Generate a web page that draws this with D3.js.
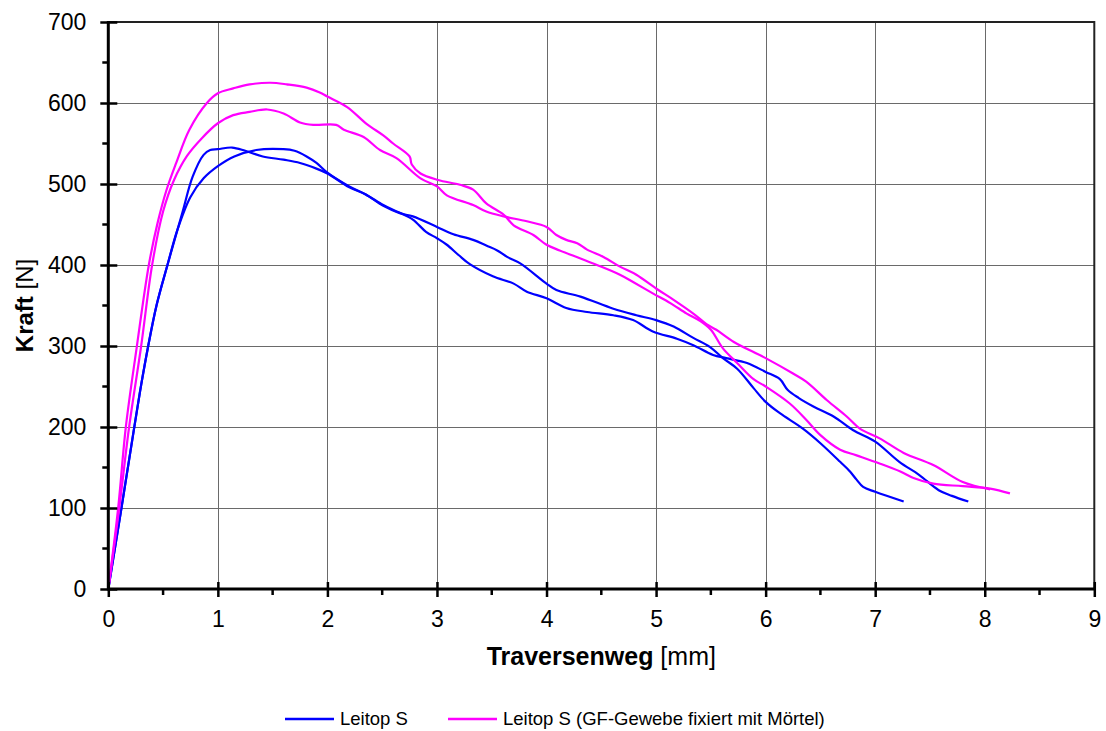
<!DOCTYPE html>
<html>
<head>
<meta charset="utf-8">
<script src="https://cdn.jsdelivr.net/npm/d3@7"></script>
<style>
  body { margin: 0; background: #fff; }
  svg { display: block; font-family: "Liberation Sans", Arial, sans-serif; }
</style>
</head>
<body>
<div id="chart"></div>
<script>
// traversenweg [mm] / kraft [N] pairs
const leitopA = [
  [0, 0], [0.12, 100], [0.235, 198], [0.3, 252], [0.36, 297], [0.44, 350],
  [0.54, 400], [0.675, 464], [0.77, 509], [0.87, 536], [0.93, 542], [1.0, 543],
  [1.13, 545], [1.25, 541], [1.41, 534], [1.6, 530], [1.75, 526], [1.9, 519],
  [2.0, 513], [2.2, 496], [2.35, 487], [2.51, 474], [2.65, 465], [2.78, 456],
  [2.9, 441], [3.0, 433], [3.09, 425], [3.2, 412], [3.3, 401], [3.51, 386],
  [3.7, 377], [3.82, 367], [4.0, 359], [4.18, 347], [4.37, 342], [4.61, 338],
  [4.79, 332], [4.97, 318], [5.19, 309], [5.34, 301], [5.52, 289], [5.64, 285],
  [5.83, 279], [6.0, 268], [6.13, 259], [6.2, 246], [6.3, 236], [6.44, 225],
  [6.62, 213], [6.8, 196], [7.0, 182], [7.22, 157], [7.4, 141], [7.58, 122],
  [7.7, 115], [7.85, 108]
];
const leitopB = [
  [0, 0], [0.12, 100], [0.235, 198], [0.3, 252], [0.36, 297], [0.44, 350],
  [0.54, 400], [0.63, 443], [0.75, 484], [0.87, 507], [1.0, 522], [1.15, 534],
  [1.35, 542], [1.6, 543], [1.7, 541], [1.81, 534], [1.9, 526], [2.0, 514],
  [2.2, 497], [2.35, 487], [2.51, 473], [2.66, 464], [2.78, 460], [3.0, 447],
  [3.15, 438], [3.33, 431], [3.45, 424], [3.55, 418], [3.64, 410], [3.76, 402],
  [4.0, 377], [4.09, 369], [4.31, 361], [4.61, 346], [4.82, 338], [5.0, 332],
  [5.16, 324], [5.34, 310], [5.49, 299], [5.61, 285], [5.74, 272], [5.89, 248],
  [6.0, 231], [6.13, 217], [6.34, 198], [6.5, 180], [6.68, 157], [6.77, 145],
  [6.83, 135], [6.89, 126], [7.0, 120], [7.26, 108]
];
const gewebeA = [
  [0, 0], [0.09, 100], [0.16, 200], [0.26, 299], [0.37, 400], [0.45, 452],
  [0.53, 492], [0.62, 526], [0.74, 567], [0.9, 600], [1.0, 612], [1.14, 618],
  [1.29, 623], [1.48, 625], [1.63, 623], [1.81, 619], [1.93, 613], [2.0, 608],
  [2.18, 595], [2.36, 574], [2.51, 560], [2.6, 550], [2.75, 534], [2.77, 524],
  [2.85, 513], [3.01, 505], [3.21, 499], [3.33, 493], [3.45, 476], [3.61, 462],
  [3.7, 449], [3.88, 437], [4.0, 425], [4.12, 418], [4.31, 408], [4.46, 400],
  [4.67, 388], [4.79, 379], [4.97, 365], [5.13, 353], [5.28, 340], [5.4, 331],
  [5.5, 320], [5.61, 297], [5.74, 279], [5.89, 259], [6.0, 250], [6.22, 229],
  [6.37, 209], [6.5, 190], [6.68, 172], [6.83, 165], [7.04, 155], [7.23, 145],
  [7.35, 137], [7.53, 130], [7.8, 127], [8.05, 124], [8.23, 118]
];
const gewebeB = [
  [0, 0], [0.1, 100], [0.19, 200], [0.3, 300], [0.4, 400], [0.5, 466],
  [0.6, 505], [0.72, 535], [0.85, 556], [1.0, 575], [1.14, 585], [1.29, 589],
  [1.45, 592], [1.6, 587], [1.75, 576], [1.87, 573], [2.08, 573], [2.15, 567],
  [2.33, 558], [2.48, 542], [2.63, 532], [2.85, 507], [3.0, 497], [3.09, 486],
  [3.33, 474], [3.45, 466], [3.61, 460], [3.82, 454], [4.0, 447], [4.09, 437],
  [4.18, 431], [4.28, 427], [4.37, 419], [4.52, 410], [4.67, 398], [4.82, 388],
  [5.0, 371], [5.16, 357], [5.34, 340], [5.46, 327], [5.55, 320], [5.71, 305],
  [6.0, 285], [6.25, 266], [6.37, 256], [6.56, 233], [6.74, 213], [6.86, 198],
  [7.04, 186], [7.26, 168], [7.53, 153], [7.8, 132], [8.05, 123]
];

const seriesNames = ["Leitop S", "Leitop S (GF-Gewebe fixiert mit Mörtel)"];
const seriesColors = ["#0000ff", "#ff00ff"];
const curves = [
  { data: leitopA, series: 0 },
  { data: leitopB, series: 0 },
  { data: gewebeA, series: 1 },
  { data: gewebeB, series: 1 }
];

const xTicks = [0, 1, 2, 3, 4, 5, 6, 7, 8, 9];
const yTicks = [0, 100, 200, 300, 400, 500, 600, 700];
const xMinor = d3.range(0.5, 9, 1);
const yMinor = d3.range(50, 700, 100);

const width = 1106;
const height = 731;
const plotLeft = 108.3, plotRight = 1094.3, plotTop = 22, plotBottom = 589;

const svg = d3
  .select("#chart")
  .append("svg")
  .attr("width", width)
  .attr("height", height);

const x = d3.scaleLinear().domain([0, 9]).range([plotLeft, plotRight]);
const y = d3.scaleLinear().domain([0, 700]).range([plotBottom, plotTop]);

// grid
const grid = svg.append("g").attr("stroke", "#6a6a6a").attr("stroke-width", 1);
grid
  .selectAll(".gx")
  .data(xTicks.slice(1, -1))
  .join("line")
  .attr("x1", (d) => Math.round(x(d)) + 0.5)
  .attr("x2", (d) => Math.round(x(d)) + 0.5)
  .attr("y1", plotTop)
  .attr("y2", plotBottom);
grid
  .selectAll(".gy")
  .data(yTicks.slice(1, -1))
  .join("line")
  .attr("x1", plotLeft)
  .attr("x2", plotRight)
  .attr("y1", (d) => Math.round(y(d)) + 0.5)
  .attr("y2", (d) => Math.round(y(d)) + 0.5);

// top and right border
svg
  .append("path")
  .attr("d", `M${plotLeft},${plotTop}H${plotRight}V${plotBottom}`)
  .attr("fill", "none")
  .attr("stroke", "#222")
  .attr("stroke-width", 2);

// curves
const line = d3
  .line()
  .x((d) => x(d[0]))
  .y((d) => y(d[1]))
  .curve(d3.curveCatmullRom.alpha(0.5));

svg
  .append("g")
  .selectAll("path")
  .data(curves)
  .join("path")
  .attr("d", (d) => line(d.data))
  .attr("fill", "none")
  .attr("stroke", (d) => seriesColors[d.series])
  .attr("stroke-width", 2.2)
  .attr("stroke-linejoin", "round");

// axes
const yAxis = svg
  .append("g")
  .attr("transform", `translate(${plotLeft},0)`)
  .call(d3.axisLeft(y).tickValues(yTicks).tickSize(8).tickPadding(14))
  .call((g) => g.select(".domain").remove());
yAxis.selectAll(".tick line").attr("x2", 9).attr("x1", -8).attr("stroke", "#000").attr("stroke-width", 2.5);
yAxis.selectAll(".tick text").attr("font-size", 23).attr("fill", "#000").attr("x", -22);

const xAxis = svg
  .append("g")
  .attr("transform", `translate(0,${plotBottom})`)
  .call(d3.axisBottom(x).tickValues(xTicks).tickSize(8).tickPadding(14))
  .call((g) => g.select(".domain").remove());
xAxis.selectAll(".tick line").attr("y1", -7).attr("y2", 8).attr("stroke", "#000").attr("stroke-width", 2.5);
xAxis.selectAll(".tick text").attr("font-size", 23).attr("fill", "#000").attr("y", 22);

// minor ticks
svg
  .append("g")
  .selectAll("line")
  .data(yMinor)
  .join("line")
  .attr("x1", plotLeft - 6)
  .attr("x2", plotLeft)
  .attr("y1", (d) => y(d))
  .attr("y2", (d) => y(d))
  .attr("stroke", "#000")
  .attr("stroke-width", 2.5);
svg
  .append("g")
  .selectAll("line")
  .data(xMinor)
  .join("line")
  .attr("x1", (d) => x(d))
  .attr("x2", (d) => x(d))
  .attr("y1", plotBottom)
  .attr("y2", plotBottom + 6)
  .attr("stroke", "#000")
  .attr("stroke-width", 2.5);

// axis lines
svg
  .append("path")
  .attr("d", `M${plotLeft},${plotTop - 1}V${plotBottom}H${plotRight + 1}`)
  .attr("fill", "none")
  .attr("stroke", "#000")
  .attr("stroke-width", 3);

// axis titles
const xTitle = svg
  .append("text")
  .attr("x", (plotLeft + plotRight) / 2)
  .attr("y", 665)
  .attr("text-anchor", "middle")
  .attr("font-size", 25);
xTitle.append("tspan").attr("font-weight", "bold").text("Traversenweg");
xTitle.append("tspan").text(" [mm]");

const yTitle = svg
  .append("text")
  .attr("transform", `translate(33,${(plotTop + plotBottom) / 2}) rotate(-90)`)
  .attr("text-anchor", "middle")
  .attr("font-size", 24);
yTitle.append("tspan").attr("font-weight", "bold").text("Kraft");
yTitle.append("tspan").text(" [N]");

// legend
const legendX = [285, 448];
const legend = svg
  .append("g")
  .selectAll("g")
  .data(seriesNames)
  .join("g")
  .attr("transform", (d, i) => `translate(${legendX[i]},719)`);
legend
  .append("line")
  .attr("x1", 0)
  .attr("x2", 49)
  .attr("stroke", (d, i) => seriesColors[i])
  .attr("stroke-width", 2.5);
legend
  .append("text")
  .attr("x", 55)
  .attr("dy", "0.35em")
  .attr("font-size", 18.5)
  .text((d) => d);
</script>
</body>
</html>
